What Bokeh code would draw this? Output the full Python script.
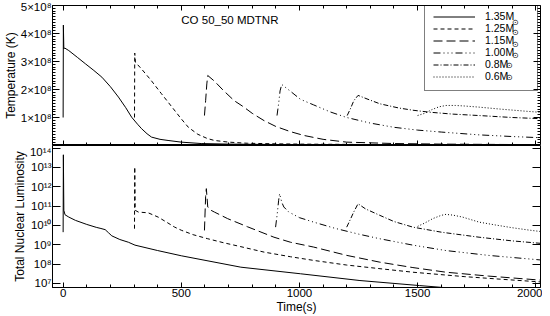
from bokeh.plotting import figure
from bokeh.layouts import column
from bokeh.models import (LinearAxis, LogAxis, FixedTicker, CustomJSTickFormatter,
                          Label, Legend, LegendItem, Range1d)
from bokeh.embed import file_html
from bokeh.resources import INLINE

# ------------------------------------------------------------------ data
time_ticks = [0, 500, 1000, 1500, 2000]
temp_ticks = [1, 2, 3, 4, 5]                 # units of 1e8 K
lum_ticks = [1e7, 1e8, 1e9, 1e10, 1e11, 1e12, 1e13, 1e14]
mass_labels = ["1.35M", "1.25M", "1.15M", "1.00M", "0.8M", "0.6M"]
title_text = "CO 50_50 MDTNR"

# Temperature (units of 1e8 K) vs time (s)
temp_t_135 = [0, 1, 3, 7, 24, 60, 94, 130, 164, 200, 234, 265, 290, 315, 332, 355, 374, 410, 444, 500, 584, 700, 900, 1200, 1600, 2000]
temp_135 = [1.0, 4.3, 3.45, 3.48, 3.39, 3.15, 2.92, 2.68, 2.44, 2.1, 1.73, 1.35, 1.01, 0.76, 0.6, 0.42, 0.3, 0.22, 0.18, 0.12, 0.07, 0.05, 0.035, 0.02, 0.01, 0.005]
temp_t_125 = [302, 303, 306, 330, 370, 416, 458, 500, 530, 570, 610, 640, 700, 780, 900, 1000, 1300, 1600, 2000]
temp_125 = [1.0, 3.3, 2.97, 2.75, 2.35, 1.85, 1.4, 0.95, 0.65, 0.4, 0.25, 0.18, 0.12, 0.08, 0.06, 0.05, 0.035, 0.025, 0.015]
temp_t_115 = [598, 603, 608, 612, 640, 680, 724, 760, 800, 850, 900, 960, 1018, 1100, 1200, 1400, 1600, 2000]
temp_115 = [1.07, 1.6, 2.2, 2.5, 2.3, 1.95, 1.6, 1.4, 1.15, 0.89, 0.68, 0.5, 0.36, 0.22, 0.12, 0.07, 0.05, 0.03]
temp_t_100 = [905, 912, 918, 925, 960, 1004, 1060, 1130, 1200, 1300, 1400, 1500, 1600, 1760, 1900, 2042]
temp_100 = [1.07, 1.5, 1.95, 2.18, 1.95, 1.65, 1.45, 1.2, 1.0, 0.8, 0.65, 0.55, 0.48, 0.38, 0.32, 0.27]
temp_t_080 = [1202, 1215, 1230, 1248, 1290, 1340, 1420, 1480, 1550, 1650, 1760, 1900, 2042]
temp_080 = [1.07, 1.3, 1.6, 1.79, 1.65, 1.49, 1.34, 1.26, 1.19, 1.12, 1.07, 1.0, 0.95]
temp_t_060 = [1500, 1530, 1560, 1590, 1620, 1660, 1700, 1760, 1850, 1950, 2042]
temp_060 = [1.07, 1.15, 1.28, 1.38, 1.43, 1.43, 1.41, 1.37, 1.3, 1.23, 1.17]

# Total nuclear luminosity (log10) vs time (s)
lum_t_135 = [0, 1, 3, 8, 24, 52, 100, 140, 160, 178, 192, 206, 240, 276, 304, 400, 500, 752, 1004, 1256, 1508, 1750, 2000]
lum_135 = [9.65, 13.65, 10.78, 10.55, 10.43, 10.26, 10.05, 9.9, 9.84, 9.78, 9.62, 9.46, 9.27, 9.13, 8.98, 8.7, 8.43, 7.84, 7.5, 7.15, 6.89, 6.65, 6.4]
lum_t_125 = [302, 303, 305, 318, 360, 402, 440, 472, 500, 550, 612, 680, 752, 850, 962, 1060, 1200, 1350, 1480, 1700, 1850, 2042]
lum_125 = [9.83, 13.02, 10.78, 10.69, 10.65, 10.43, 10.15, 9.91, 9.75, 9.52, 9.31, 9.1, 8.9, 8.62, 8.38, 8.19, 7.95, 7.75, 7.58, 7.35, 7.22, 7.06]
lum_t_115 = [598, 603, 606, 612, 626, 640, 696, 780, 892, 962, 1060, 1200, 1340, 1480, 1620, 1800, 2042]
lum_115 = [9.74, 11.5, 11.9, 10.95, 10.78, 10.69, 10.35, 9.93, 9.39, 9.13, 8.88, 8.45, 8.1, 7.82, 7.58, 7.38, 7.15]
lum_t_100 = [899, 906, 912, 916, 925, 934, 955, 1000, 1060, 1150, 1250, 1340, 1480, 1620, 1800, 2042]
lum_100 = [9.91, 10.6, 11.3, 11.64, 11.2, 10.95, 10.69, 10.4, 10.17, 9.85, 9.55, 9.31, 8.98, 8.7, 8.45, 8.19]
lum_t_080 = [1200, 1215, 1230, 1248, 1280, 1340, 1400, 1480, 1600, 1760, 1900, 2042]
lum_080 = [9.91, 10.3, 10.7, 11.12, 10.85, 10.52, 10.2, 9.91, 9.65, 9.39, 9.2, 9.05]
lum_t_060 = [1500, 1530, 1564, 1600, 1620, 1650, 1690, 1760, 1830, 1900, 1970, 2042]
lum_060 = [9.95, 10.12, 10.35, 10.52, 10.57, 10.53, 10.43, 10.17, 10.02, 9.88, 9.76, 9.65]

temp_series = [(temp_t_135, temp_135), (temp_t_125, temp_125), (temp_t_115, temp_115),
               (temp_t_100, temp_100), (temp_t_080, temp_080), (temp_t_060, temp_060)]
lum_series = [(lum_t_135, lum_135), (lum_t_125, lum_125), (lum_t_115, lum_115),
              (lum_t_100, lum_100), (lum_t_080, lum_080), (lum_t_060, lum_060)]

# ------------------------------------------------------------------ style
FONT = "Liberation Sans"
DASHES = ["solid", "4 3", "9 4", "7 3 1 3 1 3 1 3", "5 2 1 2", "1 2"]
minor_time = list(range(-100, 2101, 100))
minor_temp = [i / 10 for i in range(0, 51)]
X_START, X_END = -45, 2020
T_MAX = 5


def style_axis(ax, ticker, labels=True, tin=5, minin=3, fixed=None):
    ax.ticker = ticker
    ax.major_tick_in = tin
    ax.major_tick_out = 0
    ax.minor_tick_in = minin
    ax.minor_tick_out = 0
    ax.axis_line_color = "black"
    ax.major_tick_line_color = "black"
    ax.minor_tick_line_color = "black"
    ax.major_label_text_font = FONT
    if labels:
        ax.major_label_text_color = "black"
        ax.major_label_text_font_size = "11.5px"
        ax.major_label_standoff = 1
    else:
        ax.major_label_text_color = None
        ax.major_label_standoff = 0
    if fixed is not None:
        ax.fixed_location = fixed
    ax.axis_label_text_font = FONT
    ax.axis_label_text_font_size = "12px"
    ax.axis_label_text_font_style = "normal"
    ax.axis_label_text_color = "black"
    ax.axis_label_standoff = 0


xr = Range1d(X_START, X_END)

# ---------------- top panel: temperature
p1 = figure(width=542, height=145, x_range=xr, y_range=Range1d(0, T_MAX),
            output_backend="svg", toolbar_location=None,
            min_border_left=42, min_border_right=2, min_border_top=5, min_border_bottom=0,
            background_fill_color="white", border_fill_color="white",
            outline_line_color="black")
p1.xgrid.visible = False
p1.ygrid.visible = False

temp_fmt = CustomJSTickFormatter(code="return tick + '\u00d710\u2078';")
style_axis(p1.xaxis[0], FixedTicker(ticks=time_ticks, minor_ticks=minor_time), labels=False, fixed=0)
style_axis(p1.yaxis[0], FixedTicker(ticks=temp_ticks, minor_ticks=minor_temp), tin=7, minin=3)
p1.yaxis[0].formatter = temp_fmt
p1.yaxis[0].axis_label = "Temperature (K)"
top_ax = LinearAxis()
style_axis(top_ax, FixedTicker(ticks=time_ticks, minor_ticks=minor_time), labels=False, fixed=T_MAX)
p1.add_layout(top_ax, "above")
right_ax = LinearAxis()
style_axis(right_ax, FixedTicker(ticks=temp_ticks, minor_ticks=minor_temp), labels=False,
           tin=7, minin=3, fixed=X_END)
p1.add_layout(right_ax, "right")

items = []
for (tt, vv), dash, lab in zip(temp_series, DASHES, mass_labels):
    r = p1.line(tt, vv, line_color="black", line_width=1, line_dash=dash)
    items.append(LegendItem(label=lab, renderers=[r]))

leg = Legend(items=items, location=(372, 54), glyph_width=42, glyph_height=11,
             label_height=11, label_width=44, label_standoff=10, spacing=0, padding=8,
             margin=0, border_line_color="black", border_line_width=1,
             background_fill_color="white", background_fill_alpha=0.0,
             label_text_font=FONT, label_text_font_size="10.5px",
             label_text_line_height=1.0, label_text_color="black")
p1.add_layout(leg)

# small solar symbols after each legend label
sun_x = [1898, 1898, 1898, 1898, 1874, 1874]
sun_y = [4.41, 4.02, 3.62, 3.23, 2.84, 2.44]
for sx, sy in zip(sun_x, sun_y):
    p1.add_layout(Label(x=sx, y=sy, text="\u2299", text_font=FONT, text_font_size="8px",
                        text_baseline="middle", text_align="left", text_color="black",
                        level="overlay"))

p1.add_layout(Label(x=500, y=4.5, text=title_text, text_font=FONT, text_font_size="11.5px",
                    text_baseline="middle", text_color="black"))

# ---------------- bottom panel: luminosity
p2 = figure(width=542, height=171, x_range=xr, y_axis_type="log",
            y_range=Range1d(10 ** 6.79, 10 ** 14.13),
            output_backend="svg", toolbar_location=None,
            min_border_left=42, min_border_right=2, min_border_top=0, min_border_bottom=29,
            background_fill_color="white", border_fill_color="white",
            outline_line_color="black")
p2.xgrid.visible = False
p2.ygrid.visible = False
lum_fmt = CustomJSTickFormatter(code="""
const s = '\u2070\u00b9\u00b2\u00b3\u2074\u2075\u2076\u2077\u2078\u2079';
const e = Math.round(Math.log10(tick));
return '10' + String(e).split('').map(c => s[+c]).join('');
""")
style_axis(p2.xaxis[0], FixedTicker(ticks=time_ticks, minor_ticks=minor_time))
p2.xaxis[0].axis_label = "Time(s)"
style_axis(p2.yaxis[0], FixedTicker(ticks=lum_ticks, minor_ticks=[]), tin=8, minin=0)
p2.yaxis[0].formatter = lum_fmt
p2.yaxis[0].axis_label = "Total Nuclear Luminosity"
r_ax2 = LogAxis()
style_axis(r_ax2, FixedTicker(ticks=lum_ticks, minor_ticks=[]), labels=False, tin=8, minin=0,
           fixed=X_END)
p2.add_layout(r_ax2, "right")

for (tt, vv), dash in zip(lum_series, DASHES):
    p2.line(tt, [10 ** v for v in vv], line_color="black", line_width=1, line_dash=dash)

layout = column(p1, p2, spacing=0)
open("out.html", "w").write(file_html(layout, INLINE))
